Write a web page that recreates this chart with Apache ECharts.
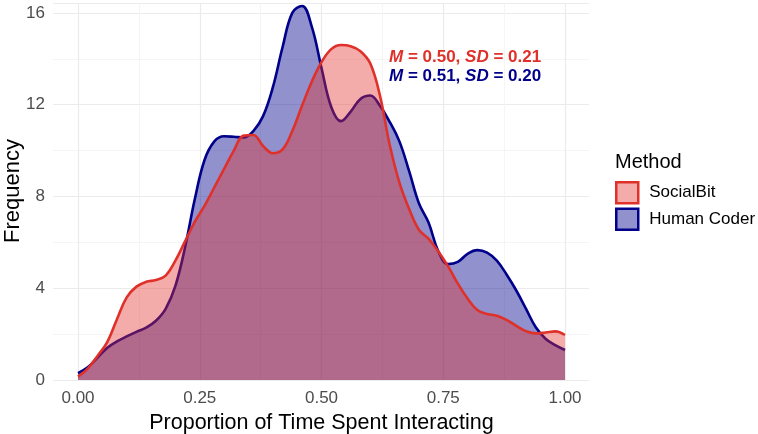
<!DOCTYPE html>
<html>
<head>
<meta charset="utf-8">
<script src="https://cdn.jsdelivr.net/npm/echarts@6/dist/echarts.min.js"></script>
<style>
html,body{margin:0;padding:0;background:#fff;}
#c{width:758px;height:434px;}
</style>
</head>
<body>
<div id="c"></div>
<script>
// ---- data ----
const xValues = [0.00,0.02,0.04,0.06,0.08,0.10,0.12,0.14,0.16,0.18,0.20,0.22,0.24,0.26,0.28,0.30,0.32,0.34,0.36,0.38,0.40,0.42,0.44,0.46,0.48,0.50,0.52,0.54,0.56,0.58,0.60,0.62,0.64,0.66,0.68,0.70,0.72,0.74,0.76,0.78,0.80,0.82,0.84,0.86,0.88,0.90,0.92,0.94,0.96,0.98,1.00];
const socialBit = [0.15,0.5,1.05,1.65,2.65,3.6,4.07,4.28,4.36,4.55,5.2,6.05,6.9,7.6,8.4,9.2,10.0,10.65,10.68,10.2,9.88,10.05,10.85,11.95,13.0,13.85,14.42,14.6,14.55,14.33,13.8,12.4,10.25,8.6,7.45,6.55,6.15,5.6,4.95,4.2,3.55,3.05,2.88,2.8,2.62,2.36,2.13,2.03,2.07,2.12,1.96];
const humanCoder = [0.3,0.55,0.98,1.4,1.68,1.9,2.1,2.28,2.58,3.1,4.1,5.8,7.9,9.6,10.4,10.62,10.6,10.57,10.85,11.5,12.75,14.5,16.0,16.3,15.4,13.6,11.9,11.28,11.7,12.25,12.4,11.95,11.25,10.4,9.1,7.7,6.85,5.6,5.05,5.15,5.5,5.66,5.55,5.2,4.6,3.9,3.1,2.3,1.8,1.52,1.31];
const xTicks = [0, 0.25, 0.5, 0.75, 1];
const yTicks = [0, 4, 8, 12, 16];
const seriesNames = ['SocialBit', 'Human Coder'];
const stats = [
  {name: 'SocialBit', M: '0.50', SD: '0.21'},
  {name: 'Human Coder', M: '0.51', SD: '0.20'}
];

const RED = '#E0302A', RED_FILL = 'rgba(224,48,42,0.4)';
const BLUE = '#00008B', BLUE_FILL = 'rgba(0,0,139,0.43)';
const YMAX = 16.43;
const FONT = '"Liberation Sans", Arial, Helvetica, sans-serif';

const pairs = arr => xValues.map((x, i) => [x, arr[i]]);

const chart = echarts.init(document.getElementById('c'), null, {renderer: 'canvas'});
const gridLine = {show: true, lineStyle: {color: '#EBEBEB', width: 1.2}};
const minorLine = {show: true, lineStyle: {color: '#F3F3F3', width: 0.8}};

chart.setOption({
  backgroundColor: '#fff',
  animation: false,
  textStyle: {fontFamily: FONT},
  grid: [
    {left: 53, right: 169, top: 3, bottom: 54, containLabel: false, outerBoundsMode: 'none'},
    {left: 78, right: 193, top: 3, bottom: 54, containLabel: false, outerBoundsMode: 'none'}
  ],
  xAxis: [
    {gridIndex: 0, type: 'value', min: 0, max: 1, show: false},
    {gridIndex: 1, type: 'value', min: xTicks[0], max: xTicks[xTicks.length-1], interval: 0.25,
     axisLine: {show: false}, axisTick: {show: false},
     axisLabel: {formatter: v => v.toFixed(2), fontSize: 17, color: '#4D4D4D', margin: 10, fontFamily: FONT},
     splitLine: gridLine, minorTick: {show: false, splitNumber: 2}, minorSplitLine: minorLine,
     name: 'Proportion of Time Spent Interacting', nameLocation: 'middle', nameGap: 29,
     nameTextStyle: {fontSize: 21.5, color: '#000', fontFamily: FONT}}
  ],
  yAxis: [
    {gridIndex: 0, type: 'value', min: 0, max: YMAX, interval: 4,
     axisLine: {show: false}, axisTick: {show: false},
     axisLabel: {fontSize: 17, color: '#4D4D4D', margin: 8, fontFamily: FONT,
       showMaxLabel: false, formatter: v => yTicks.indexOf(v) >= 0 ? String(v) : ''},
     splitLine: gridLine, minorTick: {show: false, splitNumber: 2}, minorSplitLine: minorLine},
    {gridIndex: 1, type: 'value', min: 0, max: YMAX, show: false}
  ],
  legend: {
    orient: 'vertical', left: 615, top: 181, padding: 0, itemWidth: 22, itemHeight: 21, itemGap: 3,
    icon: 'rect', selectedMode: false,
    textStyle: {fontSize: 17, color: '#000', fontFamily: FONT, padding: [0,0,0,6]},
    data: [
      {name: seriesNames[0], itemStyle: {color: RED_FILL, borderColor: RED, borderWidth: 2.5}},
      {name: seriesNames[1], itemStyle: {color: BLUE_FILL, borderColor: BLUE, borderWidth: 2.5}}
    ]
  },
  graphic: [
    {type: 'text', x: 13, y: 191, rotation: Math.PI / 2, z: 100,
     style: {text: 'Frequency', fontSize: 22, fill: '#000', fontFamily: FONT, align: 'center', verticalAlign: 'middle'}},
    {type: 'text', left: 615, top: 152, z: 100, style: {text: 'Method', fontSize: 20, fill: '#000', fontFamily: FONT}},
    {type: 'text', left: 389, top: 49, z: 100, style: {
      text: '{i|M} = ' + stats[0].M + ', {i|SD} = ' + stats[0].SD,
      fill: RED, fontSize: 17, fontWeight: 'bold', fontFamily: FONT,
      rich: {i: {fontStyle: 'italic', fontWeight: 'bold', fontSize: 17, fill: RED, fontFamily: FONT}}}},
    {type: 'text', left: 389, top: 68, z: 100, style: {
      text: '{i|M} = ' + stats[1].M + ', {i|SD} = ' + stats[1].SD,
      fill: BLUE, fontSize: 17, fontWeight: 'bold', fontFamily: FONT,
      rich: {i: {fontStyle: 'italic', fontWeight: 'bold', fontSize: 17, fill: BLUE, fontFamily: FONT}}}}
  ],
  series: [
    {name: seriesNames[1], type: 'line', xAxisIndex: 1, yAxisIndex: 1, data: pairs(humanCoder),
     smooth: 0.4, showSymbol: false, symbol: 'none',
     lineStyle: {color: BLUE, width: 2.6}, itemStyle: {color: BLUE},
     areaStyle: {color: BLUE_FILL, opacity: 1}, z: 2},
    {name: seriesNames[0], type: 'line', xAxisIndex: 1, yAxisIndex: 1, data: pairs(socialBit),
     smooth: 0.4, showSymbol: false, symbol: 'none',
     lineStyle: {color: RED, width: 2.6}, itemStyle: {color: RED},
     areaStyle: {color: RED_FILL, opacity: 1}, z: 3}
  ]
});
</script>
</body>
</html>
